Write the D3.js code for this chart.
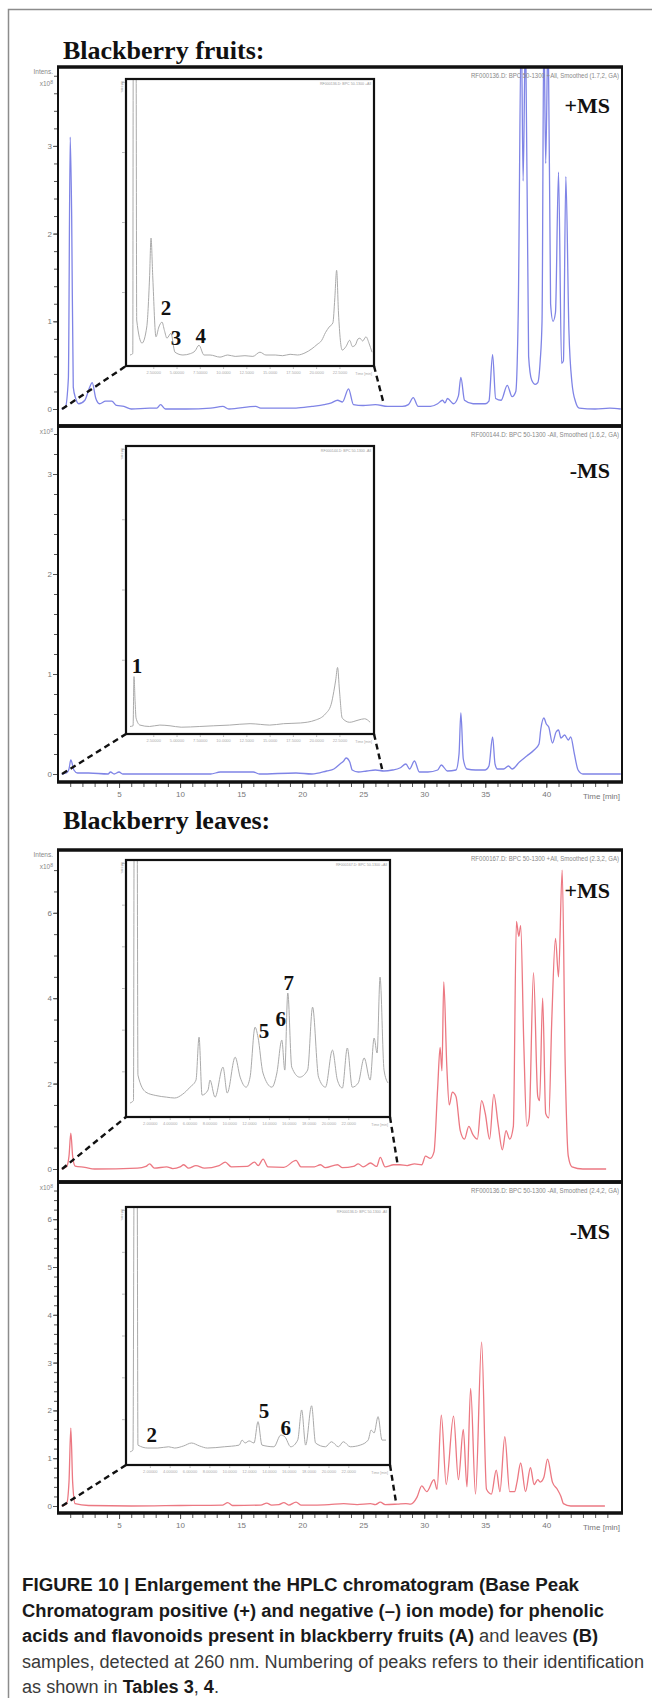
<!DOCTYPE html>
<html>
<head>
<meta charset="utf-8">
<script src="https://cdn.jsdelivr.net/npm/d3@7"></script>
<style>
  body { margin: 0; background: #fff; }
  svg { display: block; }
</style>
</head>
<body>
<svg id="chart"></svg>
<script>
// ---------- data (time in min, intensity in x10^8 for main traces) ----------
const timeLabels = [5, 10, 15, 20, 25, 30, 35, 40];
const headerTexts = [
  "RF000136.D: BPC 50-1300 +All, Smoothed (1.7,2, GA)",
  "RF000144.D: BPC 50-1300 -All, Smoothed (1.6,2, GA)",
  "RF000167.D: BPC 50-1300 +All, Smoothed (2.3,2, GA)",
  "RF000136.D: BPC 50-1300 -All, Smoothed (2.4,2, GA)"
];
const modeLabels = ["+MS", "-MS", "+MS", "-MS"];
const sectionTitles = ["Blackberry fruits:", "Blackberry leaves:"];

const fruitsPosTicks = [0, 1, 2, 3];
const fruitsNegTicks = [0, 1, 2, 3];
const leavesPosTicks = [0, 2, 4, 6];
const leavesNegTicks = [0, 1, 2, 3, 4, 5, 6];

const fruitsPosTrace = [[0.3,0],[0.6,0.02],[0.85,0.35],[1.0,3.1],[1.12,2.2],[1.25,0.25],[1.45,0.12],[1.7,0.06],[2.2,0.1],[2.6,0.25],[2.8,0.3],[3.1,0.12],[3.4,0.06],[3.9,0.09],[4.4,0.09],[4.8,0.04],[5.4,0.03],[6.0,0],[7.5,0.01],[8.1,0.01],[8.4,0.05],[8.8,0],[10.5,0],[12.5,0.01],[13.5,0.03],[14.0,0],[16.2,0.03],[16.6,0.01],[19.5,0.01],[20.8,0.03],[21.8,0.05],[22.4,0.07],[22.9,0.1],[23.3,0.08],[23.8,0.23],[24.2,0.05],[25,0.04],[26,0.05],[27,0.03],[28.2,0.03],[28.7,0.05],[29.1,0.13],[29.5,0.03],[30.5,0.03],[31.1,0.06],[31.5,0.1],[31.7,0.07],[31.9,0.12],[32.4,0.06],[32.8,0.15],[33.0,0.36],[33.3,0.1],[34.0,0.06],[35.0,0.06],[35.3,0.09],[35.6,0.62],[35.85,0.12],[36.3,0.1],[36.8,0.27],[37.2,0.14],[37.5,0.2],[37.7,1.1],[37.95,4.4],[38.1,2.6],[38.3,4.4],[38.55,0.6],[38.8,0.33],[39.1,0.28],[39.3,0.3],[39.5,0.55],[39.65,1.0],[39.8,4.4],[39.95,2.8],[40.15,4.4],[40.35,1.2],[40.55,1.0],[40.75,1.1],[41.0,2.7],[41.25,0.52],[41.4,0.55],[41.6,2.65],[41.85,0.9],[42.1,0.3],[42.4,0.08],[42.7,0.01],[44,0],[45.2,0.01],[46.1,0]];

const fruitsNegTrace = [[0.3,0],[0.7,0.01],[0.9,0.05],[1.05,0.14],[1.3,0.04],[1.6,0.01],[2.5,0.01],[4.1,0],[4.3,0.02],[4.6,0],[5.0,0.02],[5.3,0],[8,0],[12.5,0],[13.3,0.02],[16,0.02],[16.5,0],[19.5,0.01],[20.8,0],[22.0,0.03],[22.6,0.05],[23.1,0.1],[23.4,0.13],[23.6,0.16],[23.9,0.12],[24.1,0.04],[24.6,0.02],[25.3,0.03],[26,0.04],[26.7,0.03],[27.4,0.04],[28.0,0.06],[28.5,0.1],[28.8,0.05],[29.2,0.13],[29.6,0.02],[30.3,0.02],[31.1,0.04],[31.4,0.09],[31.9,0.03],[32.6,0.04],[32.85,0.2],[33.0,0.61],[33.2,0.15],[33.5,0.05],[34.2,0.04],[35.0,0.04],[35.3,0.08],[35.6,0.37],[35.8,0.1],[36.0,0.05],[36.5,0.05],[36.9,0.08],[37.2,0.05],[37.8,0.12],[38.4,0.18],[39.0,0.24],[39.4,0.3],[39.55,0.45],[39.8,0.56],[40.0,0.5],[40.2,0.47],[40.5,0.31],[40.8,0.42],[41.0,0.44],[41.2,0.36],[41.5,0.39],[41.8,0.34],[42.0,0.37],[42.3,0.2],[42.6,0.04],[43,0],[44.5,0],[46.1,0]];

const leavesPosTrace = [[0.3,0],[0.7,0.05],[0.9,0.3],[1.05,0.84],[1.2,0.3],[1.4,0.07],[2.2,0.04],[3.0,0],[6.5,0.02],[7.2,0.06],[7.5,0.12],[7.9,0.02],[8.9,0.05],[9.4,0.01],[10.0,0.05],[10.3,0.1],[10.7,0.02],[11.3,0.08],[12.0,0.02],[13.2,0.08],[13.7,0.16],[14.2,0.05],[15.5,0.06],[16.1,0.16],[16.4,0.08],[16.8,0.23],[17.2,0.05],[18.5,0.04],[19.5,0.2],[19.9,0.05],[21.0,0.05],[21.5,0.1],[21.9,0.03],[22.9,0.1],[23.3,0.03],[24.2,0.06],[24.6,0.12],[25.0,0.05],[25.6,0.14],[26.1,0.06],[26.4,0.27],[26.8,0.05],[27.5,0.1],[28.0,0.1],[28.6,0.08],[29.2,0.12],[29.8,0.1],[30.1,0.3],[30.5,0.25],[30.8,0.4],[31.1,1.9],[31.3,2.85],[31.45,2.3],[31.6,4.38],[31.85,2.4],[32.05,1.5],[32.3,1.8],[32.6,1.7],[32.95,0.9],[33.3,0.7],[33.65,1.0],[34.0,0.8],[34.35,0.7],[34.7,1.6],[35.0,1.3],[35.35,0.7],[35.7,1.75],[36.05,1.05],[36.4,0.45],[36.7,0.9],[37.0,0.7],[37.3,1.0],[37.55,5.8],[37.75,5.45],[37.9,5.7],[38.15,3.0],[38.4,1.0],[38.6,1.2],[38.95,4.6],[39.3,1.7],[39.45,1.6],[39.7,4.0],[39.95,1.3],[40.2,1.2],[40.45,3.5],[40.75,5.4],[41.0,4.5],[41.3,7.0],[41.55,2.4],[41.8,0.3],[42.1,0.05],[43,0],[44.9,0]];

const leavesNegTrace = [[0.3,0],[0.7,0.04],[0.9,0.5],[1.05,1.63],[1.2,0.5],[1.4,0.05],[2.5,0.01],[6,0],[10,0.01],[13.5,0.02],[13.9,0.07],[14.3,0.01],[16.6,0.02],[17.1,0.06],[17.5,0.02],[18.1,0.03],[18.5,0.07],[18.9,0.02],[19.5,0.08],[19.9,0.02],[21,0.02],[22.2,0.03],[23.4,0.05],[24.5,0.03],[25.6,0.05],[26.0,0.03],[26.4,0.08],[26.8,0.03],[27.8,0.04],[28.5,0.05],[28.9,0.04],[29.4,0.18],[29.8,0.42],[30.2,0.3],[30.8,0.55],[31.05,0.35],[31.4,1.9],[31.8,0.45],[32.4,1.88],[32.8,0.55],[33.2,1.6],[33.5,0.4],[33.8,2.46],[34.2,0.25],[34.7,3.43],[35.1,0.35],[35.5,0.25],[35.9,0.75],[36.2,0.3],[36.6,1.45],[37.0,0.3],[37.4,0.3],[37.6,0.5],[37.9,0.9],[38.3,0.3],[38.7,0.8],[39.0,0.45],[39.3,0.55],[39.5,0.5],[39.8,0.6],[40.1,0.98],[40.5,0.5],[40.9,0.35],[41.2,0.2],[41.4,0.05],[42,0],[44.8,0]];

// enlarged views (time 0-26 min, relative intensity)
const fruitsPosInset = [[0,0.1],[0.3,0.12],[0.35,4.6],[0.65,4.6],[0.72,0.6],[1.29,0.27],[1.8,0.5],[2.1,1.2],[2.26,1.77],[2.45,1.2],[2.79,0.36],[3.1,0.5],[3.44,0.57],[3.7,0.45],[3.97,0.34],[4.4,0.41],[4.83,0.14],[5.69,0.1],[6.5,0.12],[7.0,0.16],[7.41,0.24],[7.95,0.1],[8.6,0.1],[9.67,0.07],[10.5,0.1],[11.3,0.08],[12.35,0.09],[13.2,0.08],[13.96,0.14],[14.6,0.1],[15.6,0.1],[16.4,0.09],[17.2,0.11],[18.0,0.1],[18.8,0.13],[19.55,0.19],[20.1,0.25],[20.6,0.31],[21.0,0.42],[21.4,0.5],[21.8,0.56],[22.0,0.9],[22.2,1.31],[22.4,0.7],[22.8,0.17],[23.2,0.22],[23.6,0.31],[23.9,0.22],[24.2,0.24],[24.5,0.33],[24.7,0.34],[25.0,0.3],[25.35,0.36],[25.7,0.26],[26.0,0.14]];
const fruitsNegInset = [[0,0.05],[0.33,0.06],[0.43,0.76],[0.55,0.4],[0.65,0.17],[1.07,0.07],[2.1,0.05],[3.2,0.07],[4.3,0.06],[5.5,0.04],[7.5,0.05],[9,0.06],[10.7,0.07],[12.9,0.09],[14,0.08],[15,0.07],[16.5,0.09],[18.3,0.1],[19.9,0.14],[21.0,0.23],[21.6,0.36],[21.9,0.55],[22.1,0.71],[22.3,0.89],[22.5,0.57],[22.8,0.17],[23.6,0.11],[24.5,0.14],[25.2,0.16],[25.8,0.11]];
const leavesPosInset = [[0,0.24],[0.35,0.3],[0.42,6.9],[0.72,6.9],[0.8,0.91],[1.6,0.5],[2.6,0.42],[3.7,0.38],[4.5,0.36],[5.3,0.45],[6.05,0.62],[6.65,0.79],[6.96,1.82],[7.26,0.43],[7.86,0.55],[8.06,0.79],[8.57,0.38],[9.37,1.1],[9.8,0.48],[10.6,1.34],[11.1,0.86],[11.7,0.62],[12.1,0.86],[12.6,2.06],[12.9,1.82],[13.4,0.96],[14.3,0.62],[14.8,0.96],[15.3,1.75],[15.6,1.03],[15.9,2.88],[16.3,1.1],[17.1,0.86],[17.9,1.03],[18.4,2.54],[19.0,0.86],[19.7,0.62],[20.4,1.51],[20.9,0.79],[21.4,0.6],[21.9,1.56],[22.4,0.62],[23.0,0.72],[23.6,1.32],[24.2,0.79],[24.6,1.8],[24.9,1.44],[25.2,3.26],[25.6,1.03],[26.0,0.72]];
const leavesNegInset = [[0,0.22],[0.3,0.26],[0.42,6.9],[0.72,6.9],[0.8,0.38],[1.8,0.31],[2.8,0.31],[3.9,0.34],[4.5,0.31],[5.4,0.36],[6.2,0.43],[7,0.36],[7.8,0.31],[9.5,0.34],[11,0.38],[11.3,0.5],[11.6,0.43],[12,0.48],[12.5,0.43],[12.9,0.94],[13.3,0.38],[14.5,0.34],[15.2,0.62],[15.6,0.58],[16.2,0.34],[16.9,0.5],[17.3,1.22],[17.7,0.38],[18.3,1.32],[18.7,0.43],[19.7,0.34],[20.3,0.46],[21,0.34],[21.5,0.46],[22.2,0.34],[23.2,0.38],[24,0.5],[24.3,0.74],[24.6,0.67],[25,1.06],[25.4,0.5],[25.8,0.5]];

// numbered peaks in the enlarged views: [label, time, intensity]
const fruitsPosPeaks = [["2", 3.87, 0.67], ["3", 4.94, 0.24], ["4", 7.6, 0.27]];
const fruitsNegPeaks = [["1", 0.75, 0.81]];
const leavesPosPeaks = [["5", 13.5, 1.8], ["6", 15.2, 2.09], ["7", 16.0, 2.95]];
const leavesNegPeaks = [["2", 2.2, 0.46], ["5", 13.5, 1.03], ["6", 15.7, 0.62]];

const captionLines = [
  [["FIGURE 10 | Enlargement the HPLC chromatogram (Base Peak", true]],
  [["Chromatogram positive (+) and negative (\u2013) ion mode) for phenolic", true]],
  [["acids and flavonoids present in blackberry fruits (A)", true], [" and leaves ", false], ["(B)", true]],
  [["samples, detected at 260 nm. Numbering of peaks refers to their identification", false]],
  [["as shown in ", false], ["Tables 3", true], [", ", false], ["4", true], [".", false]]
];

// ---------- layout ----------
const W = 652, H = 1698;
const blue = "#7f84e6", red = "#ec7882", grey = "#aaaaaa";
const tickFont = "'Liberation Sans Narrow','Liberation Sans',Arial,sans-serif";
const serif = "'Liberation Serif','Times New Roman',serif";

const svg = d3.select("#chart").attr("width", W).attr("height", H);

// open grey frame around the figure
svg.append("path")
  .attr("d", `M8.5,${H} V9.5 H${W}`)
  .attr("fill", "none").attr("stroke", "#8c8c8c").attr("stroke-width", 1.5);

// section titles
svg.selectAll("text.section")
  .data(sectionTitles)
  .enter().append("text")
  .attr("class", "section")
  .attr("x", 63)
  .attr("y", (d, i) => [59, 829][i])
  .attr("font-family", serif).attr("font-weight", "bold").attr("font-size", 26)
  .attr("fill", "#111")
  .text(d => d);

const x = d3.scaleLinear().domain([0, 46.2]).range([58, 622]);

const panels = [
  {id: "fp", top: 67, bottom: 426, zero: 409, unit: 87.7, trace: fruitsPosTrace, color: blue,
   header: headerTexts[0], mode: modeLabels[0], modeY: 113, ticks: fruitsPosTicks, minorStep: 0.2, minorMax: 3.8,
   intens: true, timeAxis: false,
   inset: {x0: 126, y0: 79, x1: 374, y1: 366, yMax: 4, trace: fruitsPosInset, peaks: fruitsPosPeaks,
           win: [0.33, 26.7], rightLevel: 0.05, step: 2.5}},
  {id: "fn", top: 426, bottom: 782, zero: 774, unit: 100, trace: fruitsNegTrace, color: blue,
   header: headerTexts[1], mode: modeLabels[1], modeY: 478, ticks: fruitsNegTicks, minorStep: 0.2, minorMax: 3.4,
   intens: false, timeAxis: true,
   inset: {x0: 126, y0: 446, x1: 374, y1: 734, yMax: 4, trace: fruitsNegInset, peaks: fruitsNegPeaks,
           win: [0.33, 26.6], rightLevel: 0.02, step: 2.5}},
  {id: "lp", top: 850, bottom: 1182, zero: 1169, unit: 42.7, trace: leavesPosTrace, color: red,
   header: headerTexts[2], mode: modeLabels[2], modeY: 898, ticks: leavesPosTicks, minorStep: 0.5, minorMax: 7,
   intens: true, timeAxis: false,
   inset: {x0: 126, y0: 860, x1: 390, y1: 1117, yMax: 6, trace: leavesPosInset, peaks: leavesPosPeaks,
           win: [0.33, 27.8], rightLevel: 0.14, step: 2}},
  {id: "ln", top: 1182, bottom: 1513, zero: 1506, unit: 47.8, trace: leavesNegTrace, color: red,
   header: headerTexts[3], mode: modeLabels[3], modeY: 1239, ticks: leavesNegTicks, minorStep: 0.2, minorMax: 6.6,
   intens: false, timeAxis: true,
   inset: {x0: 126, y0: 1207, x1: 390, y1: 1465, yMax: 6, trace: leavesNegInset, peaks: leavesNegPeaks,
           win: [0.33, 27.7], rightLevel: 0.06, step: 2}}
];

const defs = svg.append("defs");

panels.forEach(p => {
  const y = d3.scaleLinear()
    .domain([(p.zero - p.bottom) / p.unit, (p.zero - p.top) / p.unit])
    .range([p.bottom, p.top]);

  defs.append("clipPath").attr("id", "clip-" + p.id)
    .append("rect").attr("x", 58).attr("y", p.top).attr("width", 564).attr("height", p.bottom - p.top);

  // main trace
  const line = d3.line().x(d => x(d[0])).y(d => y(d[1])).curve(d3.curveMonotoneX);
  svg.append("path")
    .datum(p.trace)
    .attr("clip-path", `url(#clip-${p.id})`)
    .attr("d", line)
    .attr("fill", "none").attr("stroke", p.color).attr("stroke-width", 1.3);

  // y axis: minor and labelled ticks
  const minor = d3.range(0, p.minorMax + 1e-6, p.minorStep);
  const gMinor = svg.append("g").attr("transform", "translate(58,0)")
    .call(d3.axisLeft(y).tickValues(minor).tickSize(4).tickFormat(""));
  gMinor.select(".domain").remove();
  gMinor.selectAll("line").attr("stroke", "#555");
  const gMajor = svg.append("g").attr("transform", "translate(58,0)")
    .call(d3.axisLeft(y).tickValues(p.ticks).tickSize(5).tickFormat(d3.format("d")));
  gMajor.select(".domain").remove();
  gMajor.selectAll("line").attr("stroke", "#555");
  gMajor.selectAll("text").attr("font-family", tickFont).attr("font-size", 8).attr("fill", "#777").attr("x", -6);

  // unit labels
  if (p.intens) {
    svg.append("text").attr("x", 53).attr("y", p.top + 7).attr("text-anchor", "end")
      .attr("font-family", tickFont).attr("font-size", 6.5).attr("fill", "#888").text("Intens.");
  }
  const u = svg.append("text").attr("x", 53).attr("y", p.top + (p.intens ? 19 : 8)).attr("text-anchor", "end")
    .attr("font-family", tickFont).attr("font-size", 6.5).attr("fill", "#888").text("x10");
  u.append("tspan").attr("dy", -2.5).attr("font-size", 5).text("8");

  // header text
  svg.append("text").attr("x", 619).attr("y", p.top + 11).attr("text-anchor", "end")
    .attr("font-family", tickFont).attr("font-size", 6.5).attr("fill", "#888")
    .attr("textLength", 148).attr("lengthAdjust", "spacingAndGlyphs")
    .text(p.header);

  // ion mode label
  svg.append("text").attr("x", 610).attr("y", p.modeY).attr("text-anchor", "end")
    .attr("font-family", serif).attr("font-weight", "bold").attr("font-size", 22).attr("fill", "#111")
    .text(p.mode);

  // time axis
  if (p.timeAxis) {
    const gx = svg.append("g").attr("transform", `translate(0,${p.bottom})`)
      .call(d3.axisBottom(x).tickValues(d3.range(1, 46)).tickSize(5).tickFormat(""));
    gx.select(".domain").remove();
    gx.selectAll("line").attr("stroke", "#555");
    const gxl = svg.append("g").attr("transform", `translate(0,${p.bottom})`)
      .call(d3.axisBottom(x).tickValues(timeLabels).tickSize(6).tickFormat(d3.format("d")));
    gxl.select(".domain").remove();
    gxl.selectAll("line").attr("stroke", "#555");
    gxl.selectAll("text").attr("font-family", tickFont).attr("font-size", 8).attr("fill", "#777").attr("y", 9);
    svg.append("text").attr("x", 620).attr("y", p.bottom + 17).attr("text-anchor", "end")
      .attr("font-family", tickFont).attr("font-size", 8).attr("fill", "#777").text("Time [min]");
  }

  // ---------- enlarged view ----------
  const i = p.inset;
  const ix = d3.scaleLinear().domain([0, 26]).range([i.x0 + 4, i.x1 - 2]);
  const iy = d3.scaleLinear().domain([0, i.yMax]).range([i.y1 - 4, i.y0 + 3]);

  // dashed connectors
  svg.append("line")
    .attr("x1", x(i.win[0])).attr("y1", y(0)).attr("x2", i.x0).attr("y2", i.y1)
    .attr("stroke", "#111").attr("stroke-width", 2.4).attr("stroke-dasharray", "6,4");
  svg.append("line")
    .attr("x1", i.x1).attr("y1", i.y1).attr("x2", x(i.win[1])).attr("y2", y(i.rightLevel))
    .attr("stroke", "#111").attr("stroke-width", 2.4).attr("stroke-dasharray", "6,4");

  svg.append("rect").attr("x", i.x0).attr("y", i.y0).attr("width", i.x1 - i.x0).attr("height", i.y1 - i.y0)
    .attr("fill", "#fff");

  defs.append("clipPath").attr("id", "iclip-" + p.id)
    .append("rect").attr("x", i.x0).attr("y", i.y0).attr("width", i.x1 - i.x0).attr("height", i.y1 - i.y0);

  const iline = d3.line().x(d => ix(d[0])).y(d => iy(d[1])).curve(d3.curveMonotoneX);
  svg.append("path")
    .datum(i.trace)
    .attr("clip-path", `url(#iclip-${p.id})`)
    .attr("d", iline)
    .attr("fill", "none").attr("stroke", grey).attr("stroke-width", 1);

  svg.append("rect").attr("x", i.x0).attr("y", i.y0).attr("width", i.x1 - i.x0).attr("height", i.y1 - i.y0)
    .attr("fill", "none").attr("stroke", "#111").attr("stroke-width", 2.2);

  // tiny axes of the enlarged view
  const giy = svg.append("g").attr("transform", `translate(${i.x0 - 1},0)`)
    .call(d3.axisLeft(iy).tickValues(d3.range(1, i.yMax + 1)).tickSize(3).tickFormat(""));
  giy.select(".domain").remove();
  giy.selectAll("line").attr("stroke", "#bbb");
  svg.append("text")
    .attr("transform", `translate(${i.x0 - 5},${i.y0 + 2}) rotate(90)`)
    .attr("font-family", tickFont).attr("font-size", 4).attr("fill", "#999").text("Intens.");

  const gix = svg.append("g").attr("transform", `translate(0,${i.y1 + 1})`)
    .call(d3.axisBottom(ix).tickValues(d3.range(i.step, 23, i.step)).tickSize(2).tickFormat(d3.format("g")));
  gix.select(".domain").remove();
  gix.selectAll("line").attr("stroke", "#bbb");
  gix.selectAll("text").attr("font-family", tickFont).attr("font-size", 4).attr("fill", "#aaa").attr("y", 4);
  svg.append("text").attr("x", i.x1 - 2).attr("y", i.y1 + 9).attr("text-anchor", "end")
    .attr("font-family", tickFont).attr("font-size", 3.6).attr("fill", "#aaa").text("Time [min]");

  svg.append("text").attr("x", i.x1 - 3).attr("y", i.y0 + 6).attr("text-anchor", "end")
    .attr("font-family", tickFont).attr("font-size", 3.6).attr("fill", "#999")
    .text(p.header.split(",")[0]);

  // numbered peaks
  svg.selectAll(null)
    .data(i.peaks)
    .enter().append("text")
    .attr("x", d => ix(d[1])).attr("y", d => iy(d[2]))
    .attr("text-anchor", "middle")
    .attr("font-family", serif).attr("font-weight", "bold").attr("font-size", 21).attr("fill", "#111")
    .text(d => d[0]);

  // panel frame: thin sides, heavy top and bottom
  svg.append("rect").attr("x", 58).attr("y", p.top).attr("width", 564).attr("height", p.bottom - p.top)
    .attr("fill", "none").attr("stroke", "#111").attr("stroke-width", 2);
  svg.append("line").attr("x1", 57).attr("x2", 623).attr("y1", p.top).attr("y2", p.top)
    .attr("stroke", "#111").attr("stroke-width", 3.5);
  svg.append("line").attr("x1", 57).attr("x2", 623).attr("y1", p.bottom).attr("y2", p.bottom)
    .attr("stroke", "#111").attr("stroke-width", 3.5);
});

// ---------- caption ----------
const captionWidths = [557, 582, 576, 622, 197];
const cap = svg.append("g");
captionLines.forEach((parts, k) => {
  const t = cap.append("text")
    .attr("x", 22).attr("y", 1591 + k * 25.5)
    .attr("font-family", "'Liberation Sans',Arial,sans-serif").attr("font-size", 18)
    .attr("textLength", captionWidths[k]).attr("lengthAdjust", "spacingAndGlyphs");
  parts.forEach(([s, b]) => {
    t.append("tspan").attr("font-weight", b ? "bold" : "normal").attr("fill", b ? "#1a1a1a" : "#3a3a3a").text(s);
  });
});
</script>
</body>
</html>
